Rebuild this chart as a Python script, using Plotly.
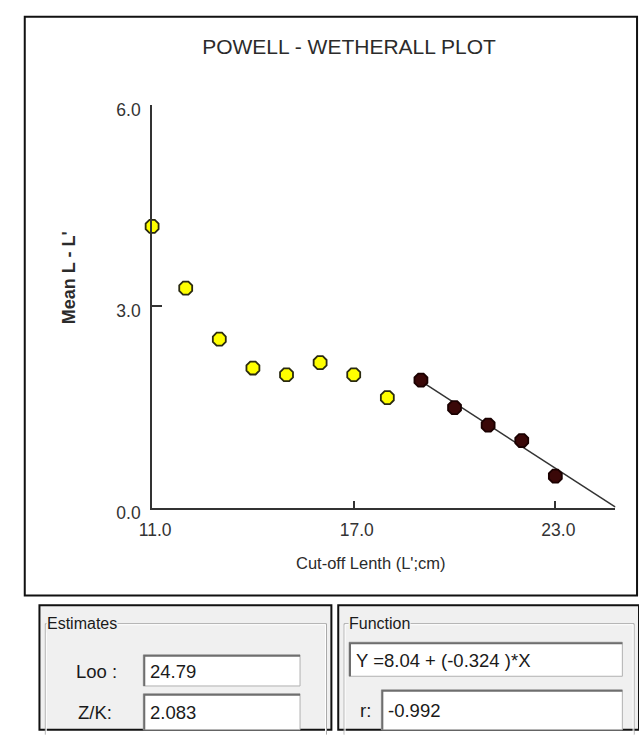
import plotly.graph_objects as go

W, H = 639, 736

# Powell-Wetherall: cut-off length L' (cm) against mean length above L' minus L'
cutoff_excluded = [11, 12, 13, 14, 15, 16, 17, 18]
mean_diff_excluded = [4.19, 3.27, 2.51, 2.08, 1.98, 2.16, 1.98, 1.64]
cutoff_used = [19, 20, 21, 22, 23]
mean_diff_used = [1.90, 1.49, 1.23, 1.00, 0.47]

# Regression estimates
intercept = 8.04
slope = -0.324
r_value = -0.992
l_inf = 24.79
z_over_k = 2.083

x_ticks = [11.0, 17.0, 23.0]
y_ticks = [0.0, 3.0, 6.0]

FONT = "Liberation Sans, Arial, sans-serif"
INK = "#2b2b2b"


def px(x):
    return x / W


def py(y):
    return 1 - y / H


line_x = [cutoff_used[0], l_inf]
line_y = [intercept + slope * v for v in line_x]

fig = go.Figure()

fig.add_trace(go.Scatter(
    x=line_x, y=line_y, mode="lines",
    line=dict(color="#333333", width=1.5),
    cliponaxis=False, hoverinfo="skip", showlegend=False,
))
fig.add_trace(go.Scatter(
    x=cutoff_excluded, y=mean_diff_excluded, mode="markers",
    marker=dict(symbol="octagon", size=14, color="#ffff00",
                line=dict(color="#2a2a10", width=1.8)),
    cliponaxis=False, showlegend=False,
))
fig.add_trace(go.Scatter(
    x=cutoff_used, y=mean_diff_used, mode="markers",
    marker=dict(symbol="octagon", size=14, color="#3a0808",
                line=dict(color="#1a0000", width=1.8)),
    cliponaxis=False, showlegend=False,
))

axis_common = dict(
    showgrid=False, zeroline=False, showline=True,
    linecolor="#333333", linewidth=2,
    ticks="inside", tickcolor="#333333", tickwidth=1.5,
    tickfont=dict(family=FONT, size=17.5, color="#333333"),
    fixedrange=True,
)

fig.update_layout(
    width=W, height=H,
    margin=dict(l=0, r=0, t=0, b=0),
    paper_bgcolor="white", plot_bgcolor="white",
    title=dict(text="POWELL - WETHERALL PLOT", x=px(349), y=py(47),
               xanchor="center", yanchor="middle",
               font=dict(family=FONT, size=21, color=INK)),
    xaxis=dict(
        axis_common, range=[x_ticks[0], l_inf],
        domain=[px(142), px(615)],
        tickvals=x_ticks, ticktext=[f"{v:.1f}" for v in x_ticks],
        ticklen=7, ticklabelshift=3, ticklabelstandoff=5,
    ),
    yaxis=dict(
        axis_common, range=[y_ticks[0], y_ticks[-1]],
        domain=[py(516.7), py(102.7)],
        tickvals=y_ticks, ticktext=[f"{v:.1f}" for v in y_ticks],
        ticklen=10, ticklabelshift=5, ticklabelstandoff=6,
    ),
)

shapes = []
annotations = []

# Axis titles
annotations.append(dict(
    text="Cut-off Lenth (L';cm)", x=px(365), y=py(574), xref="paper", yref="paper",
    xanchor="center", yanchor="middle", showarrow=False,
    font=dict(family=FONT, size=16.5, color=INK)))
annotations.append(dict(
    text="<b>Mean L - L'</b>", x=px(58), y=py(280), xref="paper", yref="paper",
    xanchor="center", yanchor="middle", showarrow=False, textangle=-90,
    font=dict(family=FONT, size=18, color=INK)))

# Chart frame
shapes.append(dict(type="rect", xref="paper", yref="paper",
                   x0=px(12), x1=px(637), y0=py(607), y1=py(12),
                   line=dict(color="#111111", width=2), layer="above"))

PANEL_BG = "#f0f0f0"
PANEL_FONT = dict(family=FONT, size=18.5, color="#1a1a1a")
GROUP_FONT = dict(family=FONT, size=16, color="#1a1a1a")


def panel(x0, x1, y0, title, title_x):
    shapes.append(dict(type="rect", xref="paper", yref="paper",
                       x0=px(x0), x1=px(x1), y0=py(745), y1=py(y0),
                       fillcolor=PANEL_BG, line=dict(color="#111111", width=2)))
    # etched group-box outline
    gx0, gx1, gy = x0 + 6, x1 - 5, y0 + 19
    for off, col in ((0, "#a8a8a8"), (1, "#ffffff")):
        shapes.append(dict(type="path", xref="paper", yref="paper",
                           path=(f"M {px(gx0 + off)},{py(750)} L {px(gx0 + off)},{py(gy + off)} "
                                 f"L {px(gx1 - off)},{py(gy + off)} L {px(gx1 - off)},{py(750)}"),
                           line=dict(color=col, width=1)))
    annotations.append(dict(
        text=title, x=px(title_x), y=py(gy), xref="paper", yref="paper",
        xanchor="left", yanchor="middle", showarrow=False, bgcolor=PANEL_BG,
        borderpad=0, font=GROUP_FONT))


def textbox(x0, x1, y0, y1, value, label=None, label_x=None):
    shapes.append(dict(type="rect", xref="paper", yref="paper",
                       x0=px(x0), x1=px(x1), y0=py(y1), y1=py(y0),
                       fillcolor="white", line=dict(color="#b0b0b0", width=1)))
    shapes.append(dict(type="path", xref="paper", yref="paper",
                       path=f"M {px(x0 + 1)},{py(y1)} L {px(x0 + 1)},{py(y0 + 1)} L {px(x1)},{py(y0 + 1)}",
                       line=dict(color="#6e6e6e", width=2)))
    annotations.append(dict(
        text=value, x=px(x0 + 5), y=py((y0 + y1) / 2 + 1), xref="paper", yref="paper",
        xanchor="left", yanchor="middle", showarrow=False, font=PANEL_FONT))
    if label is not None:
        annotations.append(dict(
            text=label, x=px(label_x), y=py((y0 + y1) / 2 + 1), xref="paper", yref="paper",
            xanchor="left", yanchor="middle", showarrow=False, font=PANEL_FONT))


panel(27, 325, 617, "Estimates", 34)
textbox(133, 293, 668, 700, f"{l_inf:.2f}", "Loo :", 62)
textbox(133, 293, 708, 745, f"{z_over_k:.3f}", "Z/K:", 64)

panel(332, 639, 617, "Function", 342)
textbox(343, 622, 655, 690, f"Y ={intercept:.2f} + ({slope:.3f} )*X")
textbox(376, 622, 704, 745, f"{r_value:.3f}", "r:", 352)

fig.update_layout(shapes=shapes, annotations=annotations)

fig.write_html("out.html")
